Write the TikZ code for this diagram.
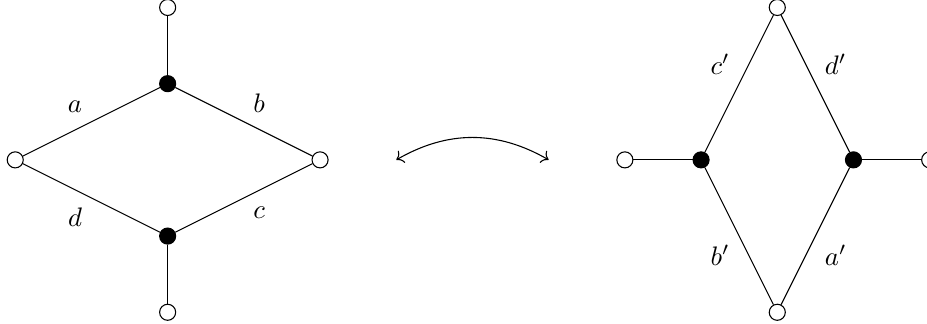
\documentclass[tikz,border=0pt]{standalone}
\usepackage{tikz}
\usetikzlibrary{arrows.meta,positioning,calc}
\tikzset{
    % Vertices
    open vertex/.style={
        circle,
        draw=black,
        fill=white,
        inner sep=0pt,
        minimum size=6pt
    },
    closed vertex/.style={
        open vertex,
        fill=black
    },
    edge line/.style={
        draw=black,
        thin
    }
}

\begin{document}
\begin{tikzpicture}
        \useasboundingbox (-0.2,-2.141) rectangle (11.965,2.098);

        % Left graph
        \node[open vertex] (ltop) at (2,2) {};
        \node[closed vertex] (lup) at (2,1) {};
        \node[open vertex] (lleft) at (0,0) {};
        \node[open vertex] (lright) at (4,0) {};
        \node[closed vertex] (ldown) at (2,-1) {};
        \node[open vertex] (lbottom) at (2,-2) {};

        \draw[edge line] (ltop) -- (lup);
        \draw[edge line] (ldown) -- (lbottom);
        \draw[edge line] (lleft) -- node[midway, above left] {$a$} (lup);
        \draw[edge line] (lup) -- node[midway, above right] {$b$} (lright);
        \draw[edge line] (lright) -- node[midway, below right] {$c$} (ldown);
        \draw[edge line] (ldown) -- node[midway, below left] {$d$} (lleft);

        % Swap arrow
        \coordinate (swapL) at (5,0);
        \coordinate (swapR) at (7,0);
        \draw[<->] (swapL) to[bend left] (swapR);

        % Right graph
        \node[open vertex] (rleft) at (8,0) {};
        \node[closed vertex] (rmidL) at (9,0) {};
        \node[open vertex] (rtop) at (10,2) {};
        \node[closed vertex] (rmidR) at (11,0) {};
        \node[open vertex] (rright) at (12,0) {};
        \node[open vertex] (rbottom) at (10,-2) {};

        \draw[edge line] (rleft) -- (rmidL);
        \draw[edge line] (rmidR) -- (rright);
        \draw[edge line] (rmidL) -- node[midway, above left] {$c'$} (rtop);
        \draw[edge line] (rtop) -- node[midway, above right] {$d'$} (rmidR);
        \draw[edge line] (rmidR) -- node[midway, below right] {$a'$} (rbottom);
        \draw[edge line] (rbottom) -- node[midway, below left] {$b'$} (rmidL);
    \end{tikzpicture}
\end{document}
